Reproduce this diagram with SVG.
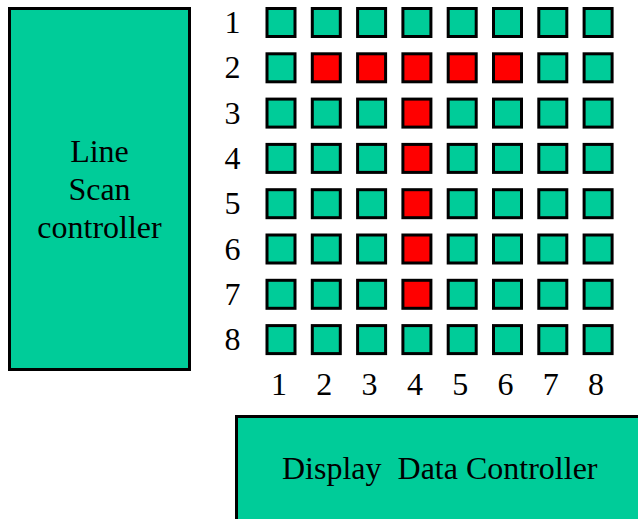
<svg xmlns="http://www.w3.org/2000/svg" width="638" height="519" viewBox="0 0 638 519">
<style>
.box{fill:#00CC99;stroke:#000;stroke-width:3}
.on{fill:#FF0000;stroke:#000;stroke-width:3}
.t{font-family:"Liberation Serif","Times New Roman",serif;font-size:32px;fill:#000;white-space:pre}
.m{text-anchor:middle}
</style>
<rect width="638" height="519" fill="#fff"/>
<g id="line-scan-controller">
<rect class="box" x="9.5" y="8.5" width="180" height="361"/>
<text class="t m" x="99.5" y="162">Line</text>
<text class="t m" x="99.5" y="200">Scan</text>
<text class="t m" x="99.5" y="238">controller</text>
</g>
<g id="display-data-controller">
<rect class="box" x="236.5" y="416.5" width="420" height="120"/>
<text class="t" x="282" y="479" xml:space="preserve">Display  Data Controller</text>
</g>
<g id="row-labels">
<text class="t m" x="232.5" y="33">1</text>
<text class="t m" x="232.5" y="78.3">2</text>
<text class="t m" x="232.5" y="123.6">3</text>
<text class="t m" x="232.5" y="168.9">4</text>
<text class="t m" x="232.5" y="214.2">5</text>
<text class="t m" x="232.5" y="259.5">6</text>
<text class="t m" x="232.5" y="304.8">7</text>
<text class="t m" x="232.5" y="350.1">8</text>
</g>
<g id="col-labels">
<text class="t m" x="279" y="395">1</text>
<text class="t m" x="324.3" y="395">2</text>
<text class="t m" x="369.6" y="395">3</text>
<text class="t m" x="414.9" y="395">4</text>
<text class="t m" x="460.2" y="395">5</text>
<text class="t m" x="505.5" y="395">6</text>
<text class="t m" x="550.8" y="395">7</text>
<text class="t m" x="596.1" y="395">8</text>
</g>
<g id="led-matrix">
<g id="row1">
<rect class="box" x="267" y="8.5" width="28" height="28"/>
<rect class="box" x="312.3" y="8.5" width="28" height="28"/>
<rect class="box" x="357.6" y="8.5" width="28" height="28"/>
<rect class="box" x="402.9" y="8.5" width="28" height="28"/>
<rect class="box" x="448.2" y="8.5" width="28" height="28"/>
<rect class="box" x="493.5" y="8.5" width="28" height="28"/>
<rect class="box" x="538.8" y="8.5" width="28" height="28"/>
<rect class="box" x="584.1" y="8.5" width="28" height="28"/>
</g>
<g id="row2">
<rect class="box" x="267" y="53.8" width="28" height="28"/>
<rect class="on" x="312.3" y="53.8" width="28" height="28"/>
<rect class="on" x="357.6" y="53.8" width="28" height="28"/>
<rect class="on" x="402.9" y="53.8" width="28" height="28"/>
<rect class="on" x="448.2" y="53.8" width="28" height="28"/>
<rect class="on" x="493.5" y="53.8" width="28" height="28"/>
<rect class="box" x="538.8" y="53.8" width="28" height="28"/>
<rect class="box" x="584.1" y="53.8" width="28" height="28"/>
</g>
<g id="row3">
<rect class="box" x="267" y="99.1" width="28" height="28"/>
<rect class="box" x="312.3" y="99.1" width="28" height="28"/>
<rect class="box" x="357.6" y="99.1" width="28" height="28"/>
<rect class="on" x="402.9" y="99.1" width="28" height="28"/>
<rect class="box" x="448.2" y="99.1" width="28" height="28"/>
<rect class="box" x="493.5" y="99.1" width="28" height="28"/>
<rect class="box" x="538.8" y="99.1" width="28" height="28"/>
<rect class="box" x="584.1" y="99.1" width="28" height="28"/>
</g>
<g id="row4">
<rect class="box" x="267" y="144.4" width="28" height="28"/>
<rect class="box" x="312.3" y="144.4" width="28" height="28"/>
<rect class="box" x="357.6" y="144.4" width="28" height="28"/>
<rect class="on" x="402.9" y="144.4" width="28" height="28"/>
<rect class="box" x="448.2" y="144.4" width="28" height="28"/>
<rect class="box" x="493.5" y="144.4" width="28" height="28"/>
<rect class="box" x="538.8" y="144.4" width="28" height="28"/>
<rect class="box" x="584.1" y="144.4" width="28" height="28"/>
</g>
<g id="row5">
<rect class="box" x="267" y="189.7" width="28" height="28"/>
<rect class="box" x="312.3" y="189.7" width="28" height="28"/>
<rect class="box" x="357.6" y="189.7" width="28" height="28"/>
<rect class="on" x="402.9" y="189.7" width="28" height="28"/>
<rect class="box" x="448.2" y="189.7" width="28" height="28"/>
<rect class="box" x="493.5" y="189.7" width="28" height="28"/>
<rect class="box" x="538.8" y="189.7" width="28" height="28"/>
<rect class="box" x="584.1" y="189.7" width="28" height="28"/>
</g>
<g id="row6">
<rect class="box" x="267" y="235" width="28" height="28"/>
<rect class="box" x="312.3" y="235" width="28" height="28"/>
<rect class="box" x="357.6" y="235" width="28" height="28"/>
<rect class="on" x="402.9" y="235" width="28" height="28"/>
<rect class="box" x="448.2" y="235" width="28" height="28"/>
<rect class="box" x="493.5" y="235" width="28" height="28"/>
<rect class="box" x="538.8" y="235" width="28" height="28"/>
<rect class="box" x="584.1" y="235" width="28" height="28"/>
</g>
<g id="row7">
<rect class="box" x="267" y="280.3" width="28" height="28"/>
<rect class="box" x="312.3" y="280.3" width="28" height="28"/>
<rect class="box" x="357.6" y="280.3" width="28" height="28"/>
<rect class="on" x="402.9" y="280.3" width="28" height="28"/>
<rect class="box" x="448.2" y="280.3" width="28" height="28"/>
<rect class="box" x="493.5" y="280.3" width="28" height="28"/>
<rect class="box" x="538.8" y="280.3" width="28" height="28"/>
<rect class="box" x="584.1" y="280.3" width="28" height="28"/>
</g>
<g id="row8">
<rect class="box" x="267" y="325.6" width="28" height="28"/>
<rect class="box" x="312.3" y="325.6" width="28" height="28"/>
<rect class="box" x="357.6" y="325.6" width="28" height="28"/>
<rect class="box" x="402.9" y="325.6" width="28" height="28"/>
<rect class="box" x="448.2" y="325.6" width="28" height="28"/>
<rect class="box" x="493.5" y="325.6" width="28" height="28"/>
<rect class="box" x="538.8" y="325.6" width="28" height="28"/>
<rect class="box" x="584.1" y="325.6" width="28" height="28"/>
</g>
</g>
<g id="connectors"></g>
</svg>
